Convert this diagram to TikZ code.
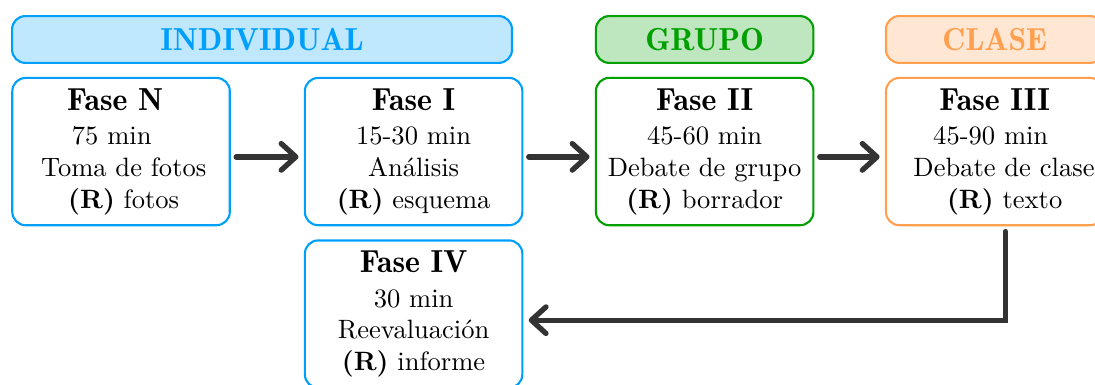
\documentclass[tikz,border=0pt]{standalone}
\usepackage{tikz}
\usetikzlibrary{arrows.meta}
\definecolor{indc}{RGB}{0,160,250}
\definecolor{grpc}{RGB}{0,160,0}
\definecolor{clsc}{RGB}{255,160,80}
\definecolor{flowc}{RGB}{51,51,51}
\newcommand{\ftitle}[1]{{\large\fontseries{b}\selectfont #1}}

\begin{document}
\begin{tikzpicture}[
    phase/.style={draw=#1, thick, rounded corners=5pt, fill=white,
      minimum width=2.88cm, minimum height=1.95cm, align=center, inner sep=2pt},
    header/.style={draw=#1, thick, rounded corners=5pt, fill=#1!25, text=#1,
      minimum height=0.62cm, font=\large\fontseries{b}\selectfont},
    flow/.style={draw=flowc, line width=2pt, line cap=round,
      -{Straight Barb[length=5.5pt,width=10pt,round]},
      shorten <=2pt, shorten >=2pt}]
  \useasboundingbox (0,0) rectangle (14.5,5.086);
  % group headers
  \node[header=indc, minimum width=6.62cm] (hInd) at (3.47,4.563) {INDIVIDUAL};
  \node[header=grpc, minimum width=2.88cm] (hGrp) at (9.331,4.563) {GRUPO};
  \node[header=clsc, minimum width=2.88cm] (hCls) at (13.172,4.563) {CLASE};
  % phases
  \node[phase=indc] (fN) at (1.603,3.079)
    {\ftitle{Fase N}\hspace*{4.5pt}\mbox{}\\[1pt] 75 min\hspace*{7pt}\mbox{}\\
     \hspace*{2pt}Toma de fotos\\ \hspace*{2pt}\textbf{(R)} fotos};
  \node[phase=indc] (fI) at (5.477,3.079)
    {\ftitle{Fase I}\\[1pt] 15-30 min\\ Análisis\\ \textbf{(R)} esquema};
  \node[phase=grpc] (fII) at (9.331,3.079)
    {\ftitle{Fase II}\\[1pt] 45-60 min\\ Debate de grupo\\ \textbf{(R)} borrador};
  \node[phase=clsc] (fIII) at (13.172,3.079)
    {\ftitle{Fase III}\\[1pt] 45-90 min\hspace*{3pt}\mbox{}\\
     \hspace*{7pt}Debate de clase\\ \hspace*{7.5pt}\textbf{(R)} texto};
  \node[phase=indc] (fIV) at (5.477,0.927)
    {\ftitle{Fase IV}\\[1pt] 30 min\\ Reevaluación\\ \textbf{(R)} informe};
  % flow
  \draw[flow] ([yshift=-2pt]fN.east) -- ([yshift=-2pt]fI.west);
  \draw[flow] ([yshift=-2pt]fI.east) -- ([yshift=-2pt]fII.west);
  \draw[flow] ([yshift=-2pt]fII.east) -- ([yshift=-2pt]fIII.west);
  \draw[flow] ([xshift=4pt]fIII.south) |- ([yshift=-2.3pt]fIV.east);
\end{tikzpicture}
\end{document}
